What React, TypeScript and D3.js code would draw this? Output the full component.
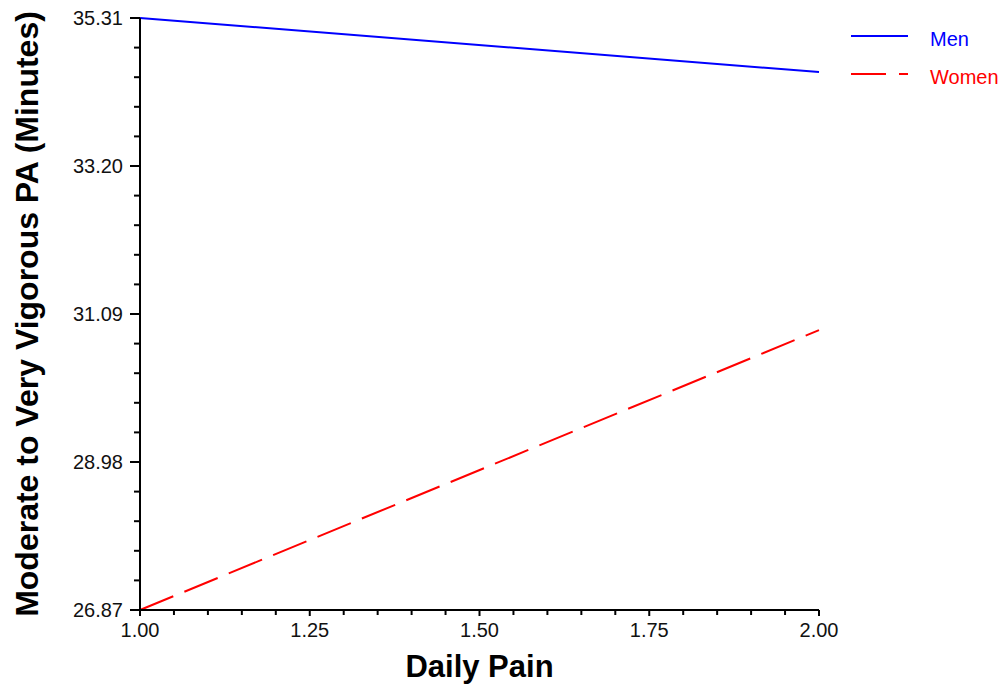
import React from 'react'
import * as d3 from 'd3'

const painLevels = [1.0, 2.0]
const menValues = [35.31, 34.54]
const womenValues = [26.87, 30.86]
const xTicks = [1.0, 1.25, 1.5, 1.75, 2.0]
const yTicks = [26.87, 28.98, 31.09, 33.2, 35.31]
const series = [
  { name: 'Men', values: menValues, color: '#0000ff', dash: null },
  { name: 'Women', values: womenValues, color: '#ff0000', dash: '36,12' }
]

const width = 1005
const height = 688
const margin = { left: 140, top: 18, right: 186, bottom: 78 }
const font = '"Liberation Sans", Arial, sans-serif'

export default function App() {
  const x = d3.scaleLinear().domain([1, 2]).range([margin.left, width - margin.right])
  const y = d3.scaleLinear().domain([26.87, 35.31]).range([height - margin.bottom, margin.top])

  const line = d3.line<number>()
    .x((d, i) => x(painLevels[i]))
    .y(d => y(d))

  // minor ticks: 5 per major interval
  const xMinor = d3.range(0, 21).map(i => 1 + i * 0.05)
  const yMinor = d3.range(0, 21).map(i => 26.87 + i * (35.31 - 26.87) / 20)

  const y0 = y.range()[0]
  const x0 = x.range()[0]

  return (
    <svg width={width} height={height} style={{ position: 'absolute', left: 0, top: 0, background: '#fff' }}>
      <g className="lines">
        {series.map(s => (
          <path
            key={s.name}
            d={line(s.values) || ''}
            fill="none"
            stroke={s.color}
            strokeWidth={2}
            strokeDasharray={s.dash || undefined}
          />
        ))}
      </g>

      <g className="x-axis">
        <line x1={x0} x2={x.range()[1]} y1={y0} y2={y0} stroke="#000" strokeWidth={2} />
        {xMinor.map((t, i) => (
          <line key={i} x1={x(t)} x2={x(t)} y1={y0} y2={y0 + (i % 5 === 0 ? 6 : 5)} stroke="#000" strokeWidth={2} />
        ))}
        {xTicks.map(t => (
          <text key={t} x={x(t)} y={y0 + 27} textAnchor="middle" fontFamily={font} fontSize={20} fill="#111">
            {t.toFixed(2)}
          </text>
        ))}
        <text x={(x0 + x.range()[1]) / 2} y={677} textAnchor="middle" fontFamily={font} fontSize={31} fontWeight="bold" fill="#000">
          Daily Pain
        </text>
      </g>

      <g className="y-axis">
        <line x1={x0} x2={x0} y1={y0} y2={y.range()[1]} stroke="#000" strokeWidth={2} />
        {yMinor.map((t, i) => (
          <line key={i} x1={x0 - (i % 5 === 0 ? 10 : 6)} x2={x0} y1={y(t)} y2={y(t)} stroke="#000" strokeWidth={2} />
        ))}
        {yTicks.map(t => (
          <text key={t} x={123} y={y(t)} dy="0.35em" textAnchor="end" fontFamily={font} fontSize={20} fill="#111">
            {t.toFixed(2)}
          </text>
        ))}
        <text
          transform={`translate(38, 314) rotate(-90)`}
          textAnchor="middle"
          fontFamily={font}
          fontSize={32}
          fontWeight="bold"
          fill="#000"
        >
          Moderate to Very Vigorous PA (Minutes)
        </text>
      </g>

      <g className="legend">
        {series.map((s, i) => (
          <g key={s.name} transform={`translate(851, ${36 + i * 38})`}>
            <line x1={0} x2={57} y1={0} y2={0} stroke={s.color} strokeWidth={2} strokeDasharray={s.dash ? '35,13' : undefined} />
            <text x={79} y={3} dy="0.35em" fontFamily={font} fontSize={20} fill={s.color}>
              {s.name}
            </text>
          </g>
        ))}
      </g>
    </svg>
  )
}
